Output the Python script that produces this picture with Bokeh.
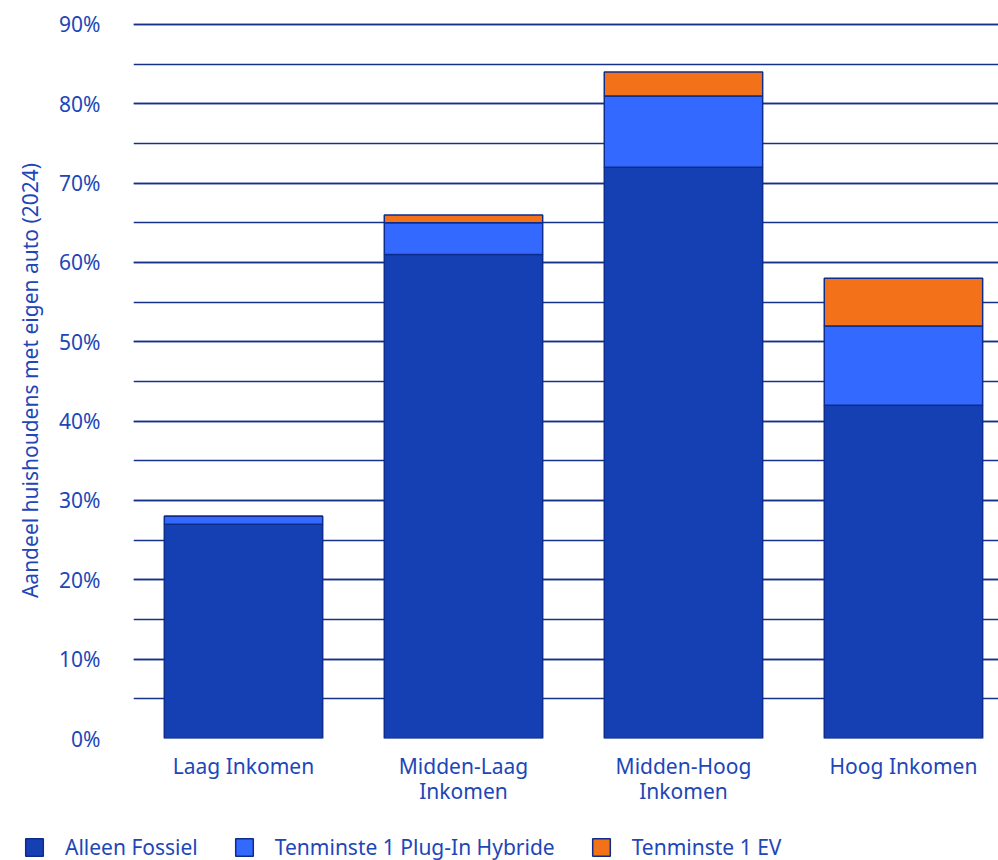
from bokeh.plotting import figure
from bokeh.layouts import column, row
from bokeh.models import ColumnDataSource, Range1d, FixedTicker, SingleIntervalTicker, PrintfTickFormatter
from bokeh.embed import file_html
from bokeh.resources import INLINE

categories = ["Laag Inkomen", "Midden-Laag\nInkomen", "Midden-Hoog\nInkomen", "Hoog Inkomen"]
alleen_fossiel = [27, 61, 72, 42]
plugin_hybride = [1, 4, 9, 10]
ev = [0, 1, 3, 6]
series_names = ["Alleen Fossiel", "Tenminste 1 Plug-In Hybride", "Tenminste 1 EV"]

FONT = "Noto Sans"
FS = "21px"
TEXT = "#2146b8"
NAVY = "#0e2c8c"
GRID = "#16318a"
colors = ["#1540b4", "#3469ff", "#f37219"]

xs = list(range(len(categories)))
src = ColumnDataSource(dict(x=xs, fossiel=alleen_fossiel, phev=plugin_hybride, ev=ev))

p = figure(frame_width=865, frame_height=716, output_backend="svg", toolbar_location=None,
           x_range=Range1d(-0.5, 3.432), y_range=Range1d(0, 90.25),
           min_border_left=133, min_border_right=0, min_border_top=22, min_border_bottom=68)
p.outline_line_color = None

p.vbar_stack(["fossiel", "phev", "ev"], x="x", width=0.72, source=src, color=colors,
             line_color=NAVY, line_width=1.5)

# axes
p.xaxis.ticker = FixedTicker(ticks=xs)
p.xaxis.major_label_overrides = {i: c for i, c in enumerate(categories)}
p.xaxis.axis_line_color = None
p.xaxis.major_tick_line_color = None
p.xaxis.minor_tick_line_color = None
p.xaxis.major_tick_out = 0
p.xaxis.major_label_standoff = 13
p.xaxis.major_label_text_font = FONT
p.xaxis.major_label_text_font_size = FS
p.xaxis.major_label_text_color = TEXT
p.xaxis.major_label_text_line_height = 0.9

p.yaxis.ticker = SingleIntervalTicker(interval=10, num_minor_ticks=2)
p.yaxis.formatter = PrintfTickFormatter(format="%d%%")
p.yaxis.axis_line_color = None
p.yaxis.major_tick_line_color = None
p.yaxis.minor_tick_line_color = None
p.yaxis.major_label_standoff = 27
p.yaxis.major_label_text_font = FONT
p.yaxis.major_label_text_font_size = FS
p.yaxis.major_label_text_color = TEXT
p.yaxis.axis_label = "Aandeel huishoudens met eigen auto (2024)"
p.yaxis.axis_label_standoff = 12
p.yaxis.axis_label_text_font = FONT
p.yaxis.axis_label_text_font_size = FS
p.yaxis.axis_label_text_font_style = "normal"
p.yaxis.axis_label_text_color = TEXT

p.xgrid.grid_line_color = None
p.ygrid.ticker = SingleIntervalTicker(interval=10, num_minor_ticks=2)
p.ygrid.grid_line_color = GRID
p.ygrid.grid_line_width = 1.3
p.ygrid.minor_grid_line_color = GRID
p.ygrid.minor_grid_line_width = 1.3
p.ygrid.level = "underlay"

# legend in a separate strip below the chart
leg = figure(width=998, height=54, output_backend="svg", toolbar_location=None,
             x_range=Range1d(0, 1), y_range=Range1d(0, 1),
             min_border=0, x_axis_location=None, y_axis_location=None)
leg.outline_line_color = None
leg.grid.grid_line_color = None
for name, c in zip(series_names, colors):
    leg.vbar(x=[-10], top=[-5], bottom=[-6], width=0.5, color=c, line_color=NAVY,
             line_width=1.5, legend_label=name)
lg = leg.legend[0]
lg.orientation = "horizontal"
lg.location = (23, 0)
lg.border_line_color = None
lg.background_fill_alpha = 0
lg.padding = 0
lg.margin = 0
lg.spacing = 35
lg.glyph_width = 22
lg.glyph_height = 22
lg.label_standoff = 20
lg.label_text_font = FONT
lg.label_text_font_size = FS
lg.label_text_color = TEXT
lg.label_height = 22

layout = column(p, row(leg), spacing=0)
open("out.html", "w").write(file_html(layout, INLINE))
